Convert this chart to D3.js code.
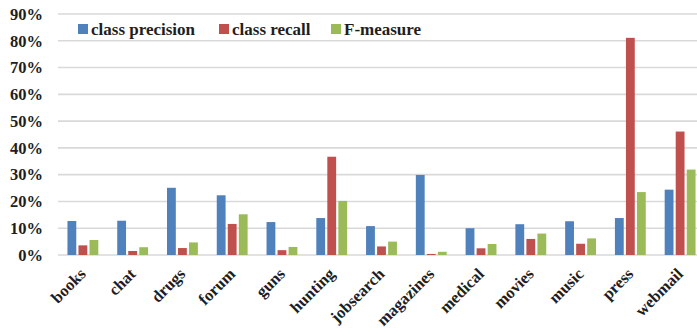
<!DOCTYPE html>
<html>
<head>
<meta charset="utf-8">
<script src="https://cdn.jsdelivr.net/npm/d3@7"></script>
<style>
  html, body { margin: 0; padding: 0; background: #fff; }
  svg { display: block; }
  text { font-family: "Liberation Serif", "DejaVu Serif", serif; fill: #1e1e1e; }
</style>
</head>
<body>
<svg id="chart" width="697" height="331"></svg>
<script>
// Per-class scores for each site category
const categories = ["books", "chat", "drugs", "forum", "guns", "hunting", "jobsearch",
  "magazines", "medical", "movies", "music", "press", "webmail"];
const seriesNames = ["class precision", "class recall", "F-measure"];
const precision = [12.7, 12.8, 25.1, 22.3, 12.3, 13.8, 10.8, 29.9, 10.0, 11.5, 12.6, 13.8, 24.4];
const recall    = [3.6, 1.5, 2.6, 11.6, 1.8, 36.7, 3.2, 0.4, 2.5, 6.0, 4.2, 81.1, 46.1];
const fmeasure  = [5.6, 2.9, 4.7, 15.2, 3.0, 20.2, 5.0, 1.2, 4.1, 8.0, 6.2, 23.5, 31.9];
const yTicks = [0, 10, 20, 30, 40, 50, 60, 70, 80, 90];
const colors = ["#4f81bd", "#c0504d", "#9bbb59"];

const seriesValues = [precision, recall, fmeasure];

const svg = d3.select("#chart");

const plot = { left: 58, right: 705, top: 14, bottom: 255 };

const x = d3.scaleBand()
  .domain(categories)
  .range([plot.left, plot.right])
  .paddingInner(0)
  .paddingOuter(0);

const inner = d3.scaleBand()
  .domain(seriesNames)
  .range([x.bandwidth() * 0.19, x.bandwidth() * 0.81])
  .paddingInner(0.2);

const y = d3.scaleLinear()
  .domain([0, 90])
  .range([plot.bottom, plot.top]);

// horizontal gridlines
svg.append("g")
  .selectAll("line")
  .data(yTicks)
  .join("line")
  .attr("x1", plot.left)
  .attr("x2", plot.right)
  .attr("y1", d => y(d))
  .attr("y2", d => y(d))
  .attr("stroke", "#d9d9d9")
  .attr("stroke-width", 1.6);

// y-axis labels
svg.append("g")
  .selectAll("text")
  .data(yTicks)
  .join("text")
  .attr("x", 43)
  .attr("y", d => y(d))
  .attr("dy", "0.35em")
  .attr("text-anchor", "end")
  .attr("font-size", 16.5)
  .attr("font-weight", "bold")
  .text(d => d + "%");

// bars
const groups = svg.append("g")
  .selectAll("g")
  .data(categories)
  .join("g")
  .attr("transform", d => `translate(${x(d)},0)`);

groups.selectAll("rect")
  .data((c, i) => seriesNames.map((s, k) => ({ s, k, v: seriesValues[k][i] })))
  .join("rect")
  .attr("x", d => inner(d.s))
  .attr("width", inner.bandwidth())
  .attr("y", d => y(d.v))
  .attr("height", d => y(0) - y(d.v))
  .attr("fill", d => colors[d.k]);

// category labels, rotated
svg.append("g")
  .selectAll("text")
  .data(categories)
  .join("text")
  .attr("transform", d => `translate(${x(d) + x.bandwidth() / 2 + 4},${plot.bottom + 20}) rotate(-45)`)
  .attr("text-anchor", "end")
  .attr("font-size", 16.5)
  .attr("font-weight", "bold")
  .text(d => d);

// legend
const legendX = [78, 219, 331];
const legend = svg.append("g")
  .selectAll("g")
  .data(seriesNames)
  .join("g")
  .attr("transform", (d, i) => `translate(${legendX[i]},24)`);

legend.append("rect")
  .attr("width", 10)
  .attr("height", 10)
  .attr("fill", (d, i) => colors[i]);

legend.append("text")
  .attr("x", 13)
  .attr("y", 11)
  .attr("font-size", 17)
  .attr("font-weight", "bold")
  .text(d => d);
</script>
</body>
</html>
